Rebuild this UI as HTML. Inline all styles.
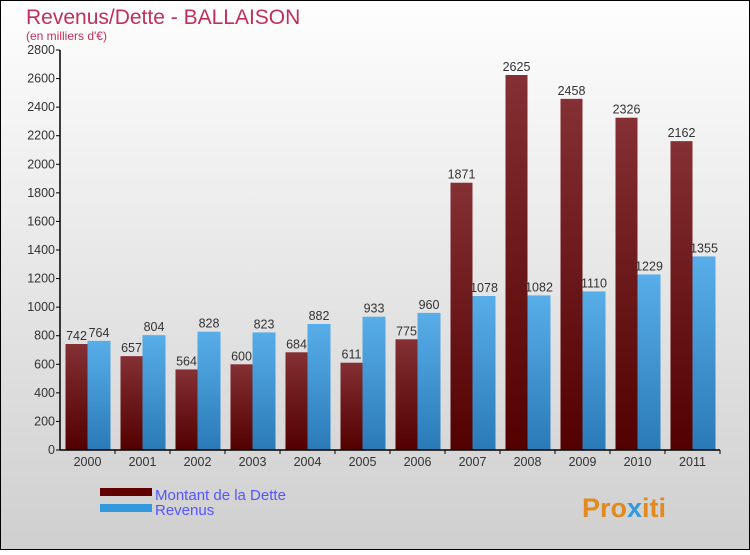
<!DOCTYPE html>
<html><head><meta charset="utf-8"><style>
body{margin:0;width:750px;height:550px;overflow:hidden;font-family:"Liberation Sans",sans-serif}
</style></head><body>
<svg width="750" height="550" viewBox="0 0 750 550">
<defs>
<linearGradient id="bg" x1="0" y1="0" x2="0" y2="1"><stop offset="0" stop-color="#fefefe"/><stop offset="1" stop-color="#cfcfcf"/></linearGradient>
<linearGradient id="gd" x1="0" y1="0" x2="0" y2="1"><stop offset="0" stop-color="#843034"/><stop offset="1" stop-color="#520000"/></linearGradient>
<linearGradient id="gr" x1="0" y1="0" x2="0" y2="1"><stop offset="0" stop-color="#58aee8"/><stop offset="1" stop-color="#2a7ab8"/></linearGradient>
</defs>
<rect x="0.5" y="0.5" width="749" height="549" fill="url(#bg)" stroke="#000"/>
<text x="26" y="24" font-size="21" fill="#c0305a">Revenus/Dette - BALLAISON</text>
<text x="26" y="40" font-size="12" fill="#c0305a">(en milliers d'€)</text>
<g id="plot"></g>
<g>
<rect x="100" y="488" width="52" height="8" fill="#600000"/>
<text x="155" y="500" font-size="15" fill="#5555ff">Montant de la Dette</text>
<rect x="100" y="504" width="52" height="8" fill="#3399dd"/>
<text x="155" y="515" font-size="15" fill="#5555ff">Revenus</text>
</g>
<text x="582" y="517" font-size="27" font-weight="bold" fill="#e08a20">Pro<tspan fill="#3399dd">x</tspan>iti</text>
</svg>
<script>
const years=["2000","2001","2002","2003","2004","2005","2006","2007","2008","2009","2010","2011"];
const dette=[742,657,564,600,684,611,775,1871,2625,2458,2326,2162];
const revenus=[764,804,828,823,882,933,960,1078,1082,1110,1229,1355];
const ticks=[0,200,400,600,800,1000,1200,1400,1600,1800,2000,2200,2400,2600,2800];
const NS="http://www.w3.org/2000/svg";
const g=document.getElementById('plot');
const x0=60,step=55,y0=450,ymax=2800,ph=400;
const y=v=>y0-v/ymax*ph;
function mk(t,a,txt){const e=document.createElementNS(NS,t);for(const k in a)e.setAttribute(k,a[k]);if(txt!==undefined)e.textContent=txt;g.appendChild(e);return e;}
ticks.forEach(t=>{
 let l=mk('line',{x1:x0-4,x2:x0,y1:y(t),y2:y(t),stroke:'#000'});
 
 
 let s=mk('text',{x:x0-5,y:y(t)+4,'font-size':12.5,fill:'#333','text-anchor':'end'},t);
 
 
});
years.forEach((yr,i)=>{
 const bx=x0+i*step+5.5;
 let a=mk('rect',{x:bx,y:y(dette[i]),width:22,height:y0-y(dette[i]),fill:'url(#gd)'});
 
 
 let b=mk('rect',{x:bx+22,y:y(revenus[i]),width:23,height:y0-y(revenus[i]),fill:'url(#gr)'});
 
 
 let la=mk('text',{x:bx+11,y:y(dette[i])-4,'font-size':12.5,fill:'#333','text-anchor':'middle'},dette[i]);
 
 
 let lb=mk('text',{x:bx+33.5,y:y(revenus[i])-4,'font-size':12.5,fill:'#333','text-anchor':'middle'},revenus[i]);
 
 
 let tk=mk('line',{x1:x0+(i+1)*step,x2:x0+(i+1)*step,y1:y0,y2:y0+4,stroke:'#000'});
 
 
 let xl=mk('text',{x:x0+i*step+27.5,y:y0+16,'font-size':12.5,fill:'#333','text-anchor':'middle'},yr);
 
 
});
let ya=mk('line',{x1:x0,x2:x0,y1:y(ymax),y2:y0,stroke:'#000','stroke-width':1.5});


let xa=mk('line',{x1:x0,x2:x0+12*step,y1:y0,y2:y0,stroke:'#000','stroke-width':1.5});


</script>
</body></html>
